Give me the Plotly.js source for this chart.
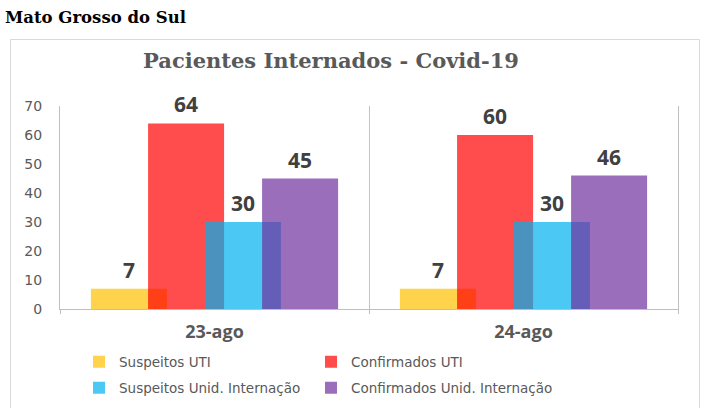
<!DOCTYPE html>
<html>
<head>
<meta charset="utf-8">
<script src="https://cdn.plot.ly/plotly-3.0.1.min.js"></script>
<style>
html,body{margin:0;padding:0;background:#fff;}
#chart{width:704px;height:408px;}
</style>
</head>
<body>
<div id="chart"></div>
<script>
// ---- data ----
const categories = ['23-ago', '24-ago'];
const seriesNames = ['Suspeitos UTI', 'Confirmados UTI', 'Suspeitos Unid. Internação', 'Confirmados Unid. Internação'];
const suspeitosUTI = [7, 7];
const confirmadosUTI = [64, 60];
const suspeitosUnid = [30, 30];
const confirmadosUnid = [45, 46];
const yTicks = [0, 10, 20, 30, 40, 50, 60, 70];

// ---- styles ----
const colors = ['rgba(255,192,0,0.7)', 'rgba(255,0,0,0.7)', 'rgba(0,176,240,0.7)', 'rgba(112,48,160,0.7)'];
const offsets = [-0.40, -0.215, -0.031, 0.154];
const barWidth = 0.246;
const legendIds = ['legend', 'legend2', 'legend3', 'legend4'];
// legend text-start x and row center y (px in the 704x408 page)
const legendPos = [[119, 362], [351, 362], [119, 388], [351, 388]];
const allSeries = [suspeitosUTI, confirmadosUTI, suspeitosUnid, confirmadosUnid];

const traces = allSeries.map((vals, i) => ({
  type: 'bar',
  name: seriesNames[i],
  x: categories,
  y: vals,
  offset: offsets[i],
  width: barWidth,
  marker: {color: colors[i], line: {width: 0}},
  legend: legendIds[i],
  hoverinfo: 'skip'
}));

const annotations = [];
allSeries.forEach((vals, i) => {
  vals.forEach((v, j) => {
    annotations.push({
      x: j + offsets[i] + barWidth / 2, y: v, xref: 'x', yref: 'y',
      text: String(v), showarrow: false, yanchor: 'middle', yshift: 19,
      font: {family: 'Open Sans', size: 21, color: '#404040', weight: 'bold'}
    });
  });
});
annotations.push({
  xref: 'paper', yref: 'paper', x: (3 - 60) / 618, y: (309 - 17) / 203,
  xanchor: 'left', yanchor: 'middle', showarrow: false,
  text: '<b>Mato Grosso do Sul</b>',
  font: {family: 'DejaVu Serif', size: 16.5, color: '#000000'}
});

const layout = {
  width: 704, height: 408,
  margin: {l: 60, r: 26, t: 106, b: 99, autoexpand: false},
  paper_bgcolor: '#ffffff', plot_bgcolor: 'rgba(0,0,0,0)',
  barmode: 'overlay',
  title: {
    text: '<b>Pacientes Internados - Covid-19</b>',
    font: {family: 'DejaVu Serif', size: 21, color: '#595959'},
    x: 331 / 704, xanchor: 'center', xref: 'container',
    y: 1 - 61 / 408, yanchor: 'middle', yref: 'container'
  },
  xaxis: {
    type: 'category', tickson: 'boundaries', automargin: false,
    showgrid: true, gridcolor: '#C4C4C4', gridwidth: 1,
    showline: true, linecolor: '#BFBFBF', linewidth: 1,
    ticks: 'outside', ticklen: 4, tickcolor: '#BFBFBF',
    tickfont: {family: 'Open Sans', size: 18, color: '#595959', weight: 'bold'},
    ticklabelstandoff: 6,
    fixedrange: true
  },
  yaxis: {
    range: [0, 70], tickvals: yTicks, showgrid: false, zeroline: false, automargin: false,
    showline: true, mirror: true, linecolor: '#BFBFBF', linewidth: 1,
    ticks: '', ticklabelstandoff: 14,
    tickfont: {family: 'DejaVu Sans', size: 14, color: '#595959'},
    fixedrange: true
  },
  showlegend: true,
  annotations: annotations,
  shapes: [{
    type: 'rect', xref: 'paper', yref: 'paper', layer: 'below',
    x0: (10.5 - 60) / 618, x1: (699.5 - 60) / 618,
    y0: (309 - 430) / 203, y1: (309 - 39.5) / 203,
    line: {color: '#D9D9D9', width: 1}, fillcolor: 'rgba(0,0,0,0)'
  }]
};

legendIds.forEach((id, i) => {
  layout[id] = {
    orientation: 'h',
    xref: 'container', yref: 'container',
    x: (legendPos[i][0] - 40) / 704, xanchor: 'left',
    y: 1 - legendPos[i][1] / 408, yanchor: 'middle',
    font: {family: 'DejaVu Sans', size: 13.5, color: '#595959'},
    bgcolor: 'rgba(0,0,0,0)', borderwidth: 0
  };
});

Plotly.newPlot('chart', traces, layout, {displayModeBar: false, staticPlot: true});
</script>
</body>
</html>
